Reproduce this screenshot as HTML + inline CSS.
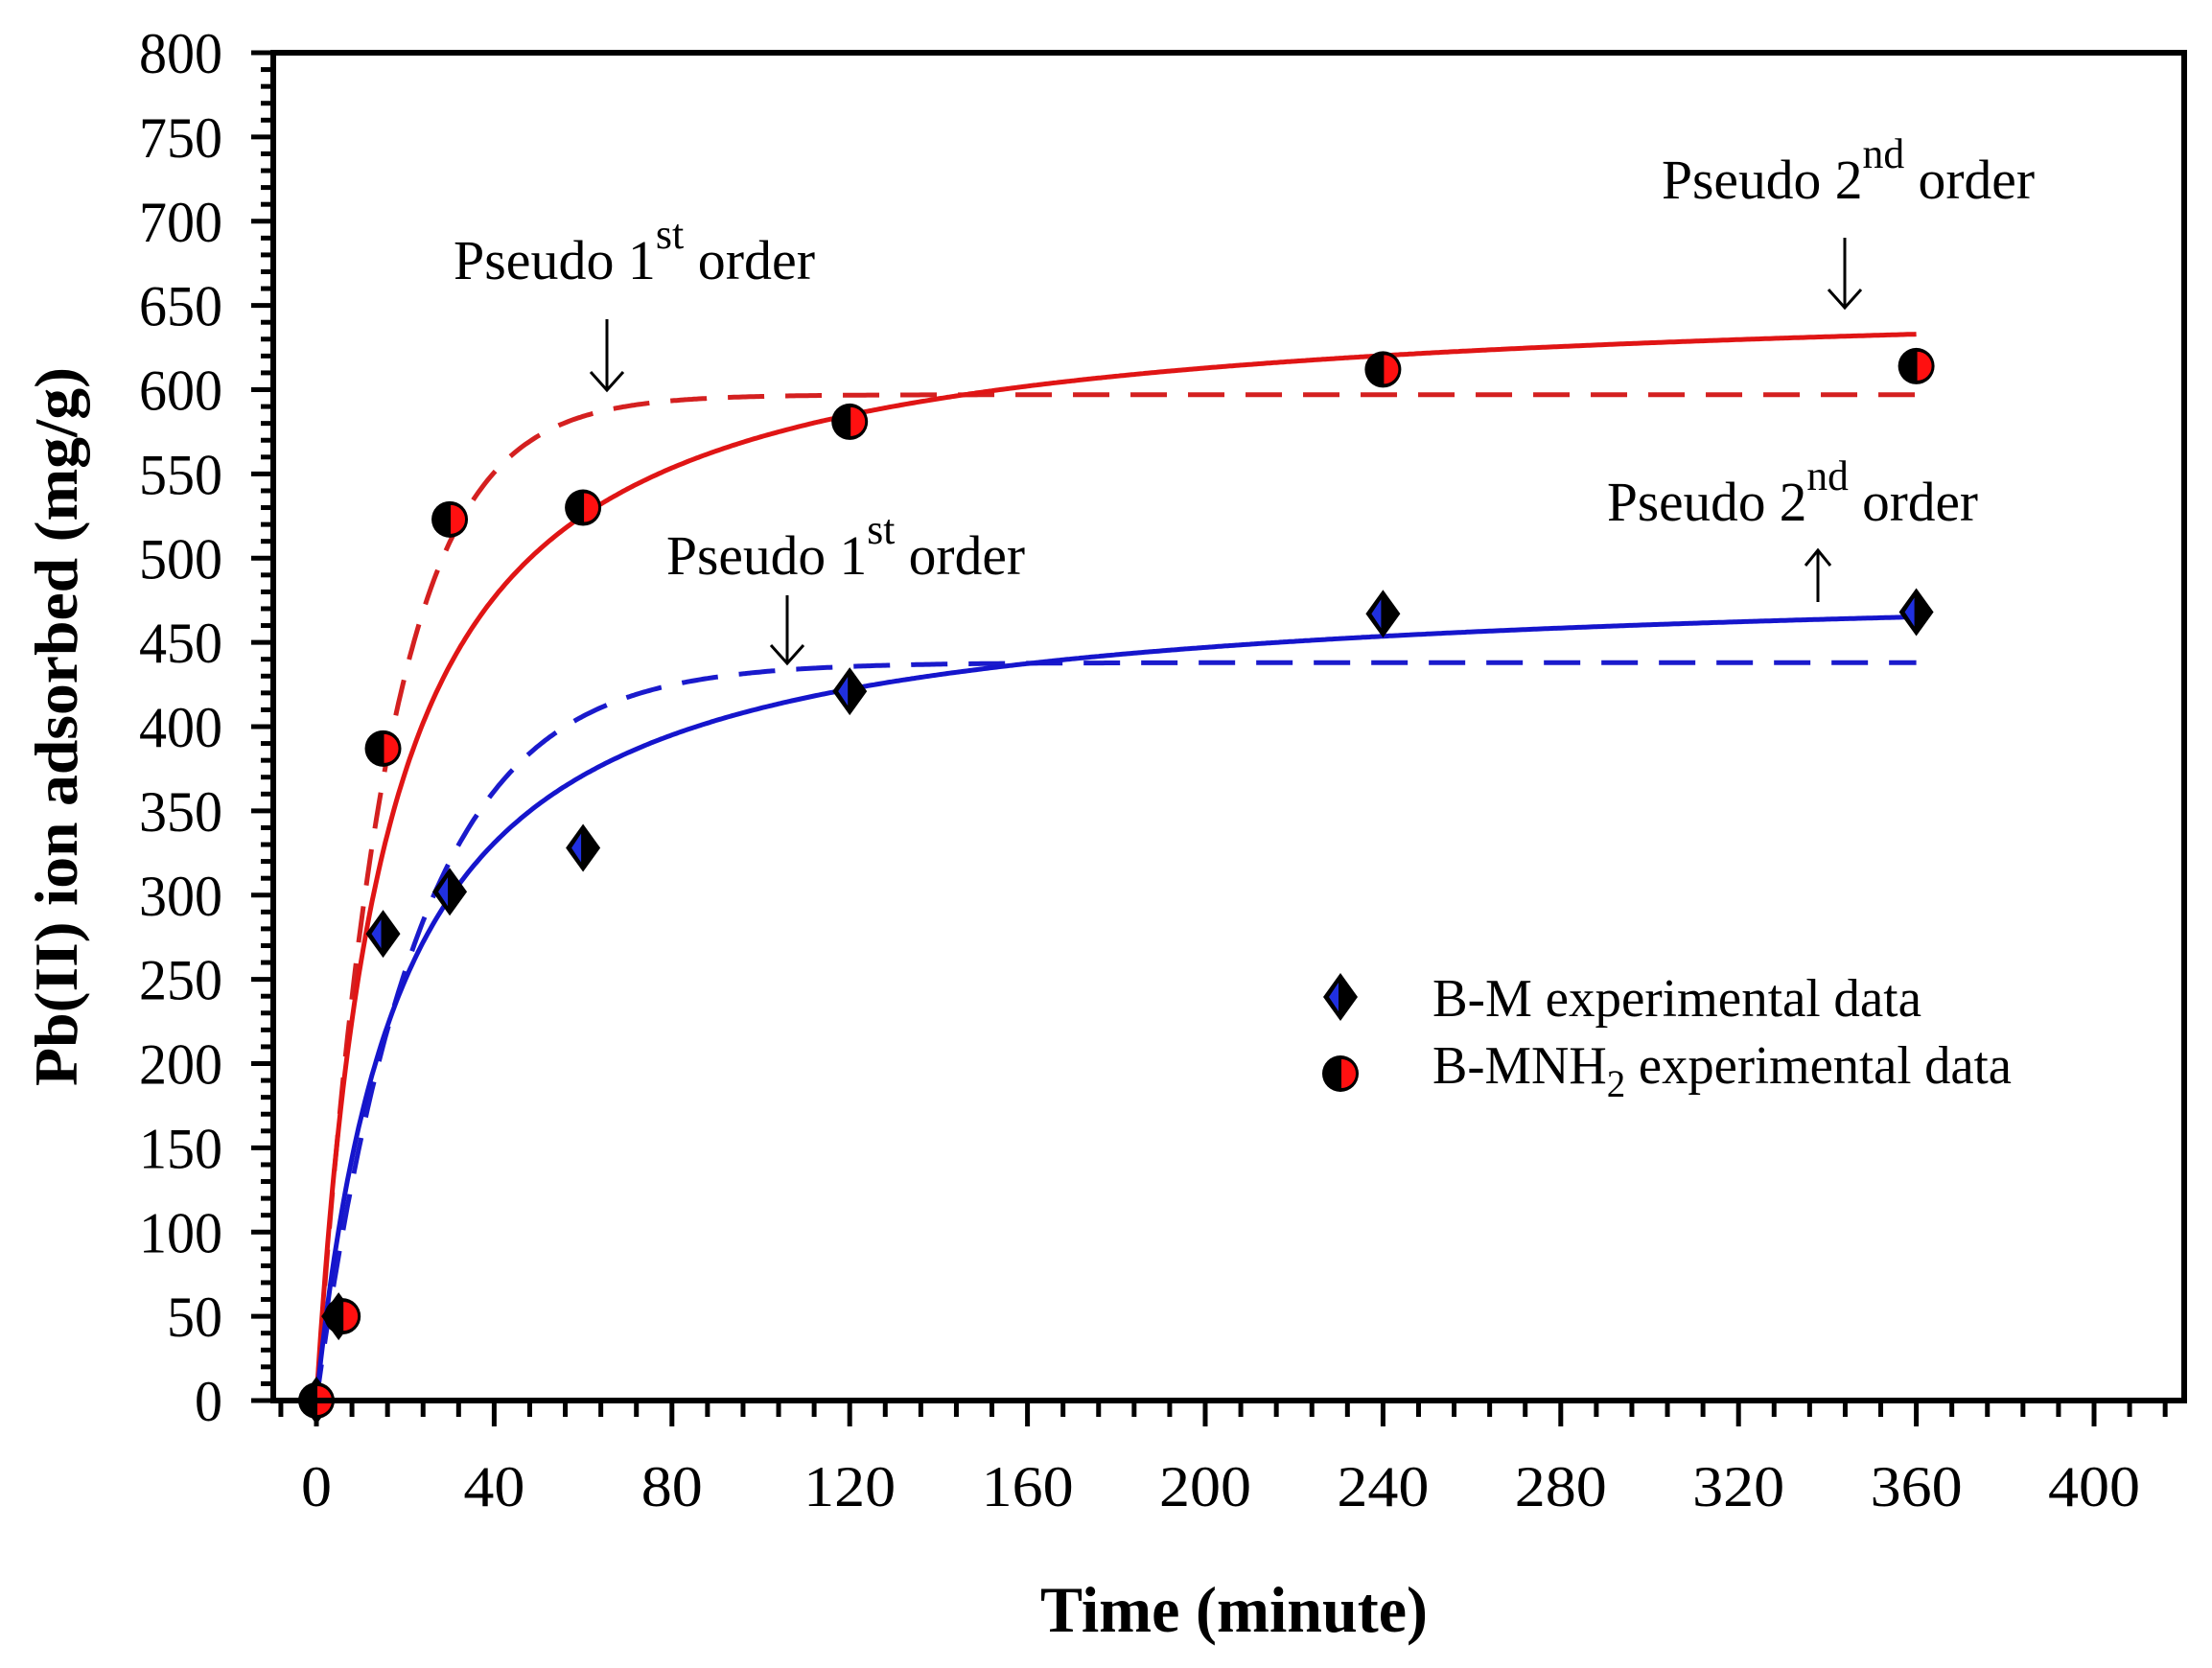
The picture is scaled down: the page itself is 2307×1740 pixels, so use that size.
<!DOCTYPE html>
<html><head><meta charset="utf-8"><style>
html,body{margin:0;padding:0;background:#fff;}
svg{display:block;}
text{font-family:"Liberation Serif",serif;fill:#000;}
</style></head><body>
<svg id="s" width="2307" height="1740" viewBox="0 0 2307 1740" xmlns="http://www.w3.org/2000/svg">
<rect width="2307" height="1740" fill="#fff"/>
<g id="ticks" stroke="#000" stroke-width="5"></g>
<g id="labels" font-size="60"></g>
<g id="curves" fill="none" stroke-width="5"></g>
<g id="marks"></g>
<rect x="285" y="55" width="1993" height="1406" fill="none" stroke="#000" stroke-width="6"/>
<text x="1287" y="1702" font-size="68" font-weight="bold" text-anchor="middle" textLength="404" lengthAdjust="spacingAndGlyphs">Time (minute)</text>
<text transform="translate(80,758) rotate(-90)" font-size="64" font-weight="bold" text-anchor="middle" textLength="750" lengthAdjust="spacingAndGlyphs">Pb(II) ion adsorbed (mg/g)</text>
<!-- annotations -->
<g font-size="58">
<text x="473" y="291" textLength="377" lengthAdjust="spacingAndGlyphs">Pseudo 1<tspan dy="-32" font-size="44">st</tspan><tspan dy="32"> order</tspan></text>
<text x="1733" y="207" textLength="389" lengthAdjust="spacingAndGlyphs">Pseudo 2<tspan dy="-32" font-size="44">nd</tspan><tspan dy="32"> order</tspan></text>
<text x="695" y="599" textLength="374" lengthAdjust="spacingAndGlyphs">Pseudo 1<tspan dy="-32" font-size="44">st</tspan><tspan dy="32"> order</tspan></text>
<text x="1676" y="543" textLength="387" lengthAdjust="spacingAndGlyphs">Pseudo 2<tspan dy="-32" font-size="44">nd</tspan><tspan dy="32"> order</tspan></text>
</g>
<g stroke="#000" stroke-width="3" fill="none">
<path d="M633 333V407M616 388L633 407L650 388"/>
<path d="M1924 248V321M1907 302L1924 321L1941 302"/>
<path d="M821 621V692M804 673L821 692L838 673"/>
<path d="M1896 628V574M1883 590L1896 574L1909 590"/>
</g>
<!-- legend -->
<g font-size="56">
<text x="1494" y="1060" textLength="510" lengthAdjust="spacingAndGlyphs">B-M experimental data</text>
<text x="1494" y="1130" textLength="604" lengthAdjust="spacingAndGlyphs">B-MNH<tspan dy="14" font-size="40">2</tspan><tspan dy="-14"> experimental data</tspan></text>
</g>
<g id="leg"></g>
</svg>
<script>
var NS="http://www.w3.org/2000/svg";
function X(t){return 330+4.635*t;}
function Y(v){return 1461-1.7575*v;}
function el(p,tag,attrs){var e=document.createElementNS(NS,tag);for(var k in attrs)e.setAttribute(k,attrs[k]);document.getElementById(p).appendChild(e);return e;}
for(var v=0;v<=800;v+=10){var y=Y(v);var maj=v%50==0;el("ticks","line",{x1:maj?262:272,x2:285,y1:y,y2:y});}
for(var v=0;v<=800;v+=50){var s=String(v);var t=el("labels","text",{x:232,y:Y(v)+21,"text-anchor":"end",textLength:29*s.length,lengthAdjust:"spacingAndGlyphs"});t.textContent=s;}
for(var m=-8;m<=416;m+=8){var x=X(m);if(x<286)continue;var maj=m%40==0;el("ticks","line",{x1:x,x2:x,y1:1461,y2:maj?1488:1478});}
for(var m=0;m<=400;m+=40){var s=String(m);var t=el("labels","text",{x:X(m),y:1571,"text-anchor":"middle",textLength:32*s.length,lengthAdjust:"spacingAndGlyphs"});t.textContent=s;}
function curve(f,color,dash){var d="";for(var t=0;t<=360;t+=0.5){d+=(t==0?"M":"L")+X(t).toFixed(1)+" "+Y(f(t)).toFixed(1);}
 var a={d:d,stroke:color};if(dash)a["stroke-dasharray"]=dash;el("curves","path",a);}
curve(function(t){return 597*(1-Math.exp(-0.064*t));},"#d42020","38 22");
curve(function(t){var a=0.065*t;return 660*a/(1+a);},"#e01515");
curve(function(t){return 438*(1-Math.exp(-0.0437*t));},"#1a1acc","38 22");
curve(function(t){var a=0.052*t;return 490*a/(1+a);},"#1515cc");
function circ(g,cx,cy){el(g,"circle",{cx:cx,cy:cy,r:19,fill:"#000"});
 el(g,"path",{d:"M"+(cx+1)+" "+(cy-15)+"A15 15 0 0 1 "+(cx+1)+" "+(cy+15)+"Z",fill:"#ff1010"});}
function dia(g,cx,cy){el(g,"path",{d:"M"+cx+" "+(cy-25)+"L"+(cx+18)+" "+cy+"L"+cx+" "+(cy+25)+"L"+(cx-18)+" "+cy+"Z",fill:"#000"});
 el(g,"path",{d:"M"+(cx-2)+" "+(cy-15)+"L"+(cx-2)+" "+(cy+15)+"L"+(cx-12)+" "+cy+"Z",fill:"#2030e0"});}
var T=[0,5,15,30,60,120,240,360];
var B=[0,50,277,302,328,421,467,468];
var R=[0,50,387,523,530,581,612,614];
for(var i=0;i<T.length;i++){dia("marks",X(T[i]),Y(B[i]));}
for(var i=0;i<T.length;i++){circ("marks",X(T[i])+(i==1?4:0),Y(R[i]));}
dia("leg",1398,1040);circ("leg",1398,1120);
</script>
</body></html>
